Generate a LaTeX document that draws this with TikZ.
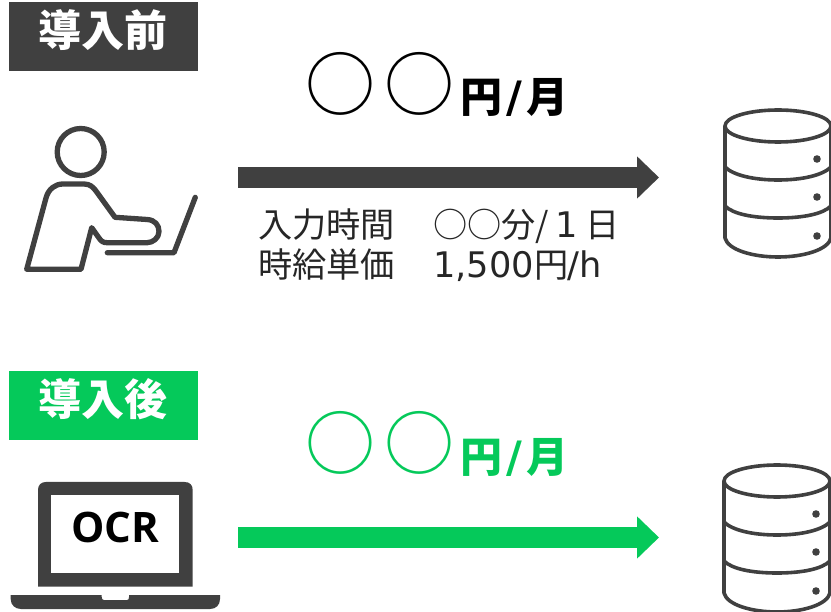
\documentclass[tikz,border=0pt]{standalone}
\usepackage{fontspec}
\usetikzlibrary{arrows.meta}
\setmainfont{Noto Sans CJK JP}
\newfontfamily\latinfont{DejaVu Sans}[Scale=1.03]
\newfontfamily\ocrfont{Open Sans}
\definecolor{dark}{HTML}{404040}
\definecolor{mygreen}{HTML}{05C95A}
\newcommand{\fsz}[1]{\fontsize{#1}{#1}\selectfont}
\tikzset{
  x=1pt,y=-1pt,
  header/.style={fill=#1,minimum width=189pt,minimum height=69pt,inner sep=0pt,anchor=north west},
  headtext/.style={text=white,font=\fsz{43}\bfseries,anchor=base,inner sep=0pt},
  bigring/.style={font=\fsz{70},text=#1,anchor=center,inner sep=0pt},
  price/.style={font=\fsz{42}\bfseries,text=#1,anchor=base west,inner sep=0pt},
  bodytext/.style={font=\fsz{34.2},text=black!85,anchor=base west,inner sep=0pt},
  flow/.style={draw=#1,line width=21pt,-{Triangle[length=22pt,width=41pt]}},
  icon/.style={draw=dark,line width=#1,line join=round,line cap=round,fill=none},
  dbicon/.pic={
    \draw[icon=3.6pt] (0,0) ellipse [x radius=53,y radius=16];
    \draw[icon=3.6pt] (-53,0) -- (-53,112) .. controls (-50,124) and (-25,131) .. (0,131) .. controls (25,131) and (50,124) .. (53,112) -- (53,0);
    \draw[icon=3.6pt] (-53,41) .. controls (-45,49) and (-25,54) .. (0,54) .. controls (25,54) and (45,49) .. (53,41);
    \draw[icon=3.6pt] (-53,80) .. controls (-45,88) and (-25,92) .. (0,92) .. controls (25,92) and (45,88) .. (53,80);
    \fill[dark] (39,33) circle [radius=3.8];
    \fill[dark] (39,71) circle [radius=3.8];
    \fill[dark] (39,110) circle [radius=3.8];
  }
}
\begin{document}
\begin{tikzpicture}
\useasboundingbox (0,0) rectangle (831,612);
\clip (0,0) rectangle (831,612);
% before
\node[header=dark] (hA) at (9,2) {};
\node[headtext] (hAt) at (103,47) {導入前};
\node[bigring=black] (rA1) at (340.5,84) {○};
\node[bigring=black] (rA2) at (419.5,84) {○};
\node[price=black] (pA) at (460,113) {円\kern4pt{\latinfont\bfseries/}\kern4pt月};
\node[bodytext] (tA1) at (258,238) {入力時間};
\node[bodytext] (tA2) at (433,238) {○○分/{\latinfont\,1\,}\kern2pt日};
\node[bodytext] (tA3) at (258,278) {時給単価};
\node[bodytext] (tA4) at (433,278) {{\latinfont 1,500}円\kern-1pt{\latinfont/h}};
\coordinate (aA0) at (238,177.5);
\coordinate (aA1) at (659,177.5);
\draw[flow=dark] (aA0) -- (aA1);
% person
\draw[icon=5.3pt] (80.7,152) circle [radius=23.5];
\draw[icon=5.3pt] (26.7,269.3) -- (46,198) .. controls (48.5,189) and (55,184) .. (63,184) -- (84,184) .. controls (90,184) and (93,187) .. (96,191) -- (115,217.3) -- (147,219.5) .. controls (155,220) and (159,225) .. (159,231.5) .. controls (159,238) and (153,242.7) .. (147,242.7) -- (107,242.7) .. controls (103,242.7) and (101,241) .. (99,238) -- (91.7,227.7) -- (81,269.3) -- cycle;
\draw[icon=5.3pt] (107.3,252.7) -- (174,252.7) -- (195.3,197.3);
\pic at (778,126) {dbicon};
% after
\node[header=mygreen] (hB) at (9,371) {};
\node[headtext] (hBt) at (103,416) {導入後};
\node[bigring=mygreen] (rB1) at (340.5,443) {○};
\node[bigring=mygreen] (rB2) at (419.5,443) {○};
\node[price=mygreen] (pB) at (460,473) {円\kern4pt{\latinfont\bfseries/}\kern4pt月};
\coordinate (aB0) at (238,537.5);
\coordinate (aB1) at (659,537.5);
\draw[flow=mygreen] (aB0) -- (aB1);
% laptop
\fill[dark] (38,586.7) -- (38,490) .. controls (38,485) and (41,482) .. (46,482) -- (184.7,482) .. controls (189.7,482) and (192.7,485) .. (192.7,490) -- (192.7,586.7) -- cycle;
\fill[white] (51,495) rectangle (179.3,572.7);
\node[font=\ocrfont\fsz{42}\bfseries,text=black,inner sep=0pt] (ocr) at (115,527) {OCR};
\fill[dark] (10.7,595) -- (101.7,595) -- (101.7,597) .. controls (101.7,599) and (102.5,600) .. (104,600) -- (127,600) .. controls (128.5,600) and (129,599) .. (129,597) -- (129,595) -- (220,595) -- (220,599) .. controls (220,605) and (216,609) .. (210,609) -- (21,609) .. controls (15,609) and (10.7,605) .. (10.7,599) -- cycle;
\pic at (777,481) {dbicon};
\end{tikzpicture}
\end{document}
